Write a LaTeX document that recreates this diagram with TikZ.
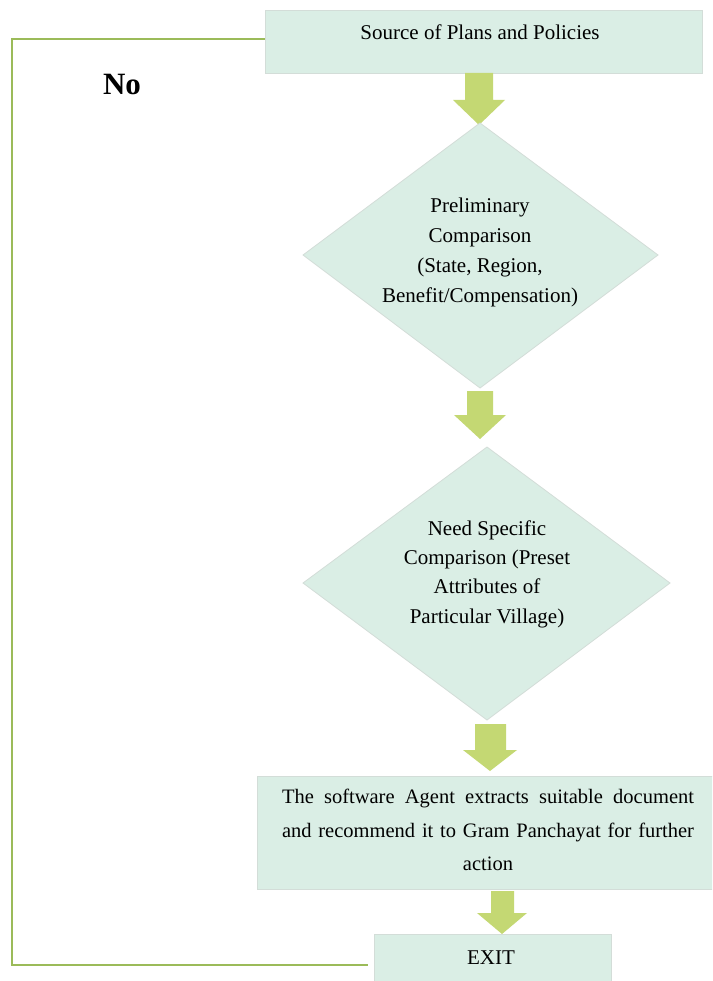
\documentclass[tikz,border=0pt]{standalone}
\usepackage{fontspec}
\setmainfont{Liberation Serif}
\definecolor{boxfill}{HTML}{DAEEE5}
\definecolor{boxedge}{HTML}{D3DDD8}
\definecolor{arrowfill}{HTML}{C4D873}
\definecolor{loopcol}{HTML}{9BBB59}
\tikzset{
  box/.style={rectangle, fill=boxfill, draw=boxedge, line width=0.8pt, inner sep=0pt},
  dia/.style={fill=boxfill, draw=boxedge, line width=0.8pt},
  blockarrow/.style={fill=arrowfill, draw=none},
  txt/.style={font=\fontsize{21}{30}\selectfont, align=center, inner sep=0pt},
  loopline/.style={draw=loopcol, line width=2.2pt},
}
\begin{document}
\begin{tikzpicture}[x=1pt,y=-1pt]
\clip (0,0) rectangle (712,981);
\fill[white] (0,0) rectangle (712,981);

% top box
\node[box, minimum width=437pt, minimum height=63pt] (top) at (483.5,41.5) {};
\node[txt] (toptxt) at (480,32) {Source of Plans and Policies};

% No label
\node[font=\fontsize{31}{34}\selectfont\bfseries, inner sep=0pt] (no) at (122,85) {No};

% arrow 1
\fill[blockarrow] (465,73) -- (493,73) -- (493,100) -- (505,100) -- (479,125) -- (453,100) -- (465,100) -- cycle;

% diamond 1
\filldraw[dia] (480,123) -- (658,255) -- (480,388) -- (303,255) -- cycle;
\node[txt] (d1) at (480,252) {Preliminary\\Comparison\\(State, Region,\\Benefit/Compensation)};

% arrow 2
\fill[blockarrow] (467,391) -- (493,391) -- (493,415) -- (506,415) -- (480,439) -- (454,415) -- (467,415) -- cycle;

% diamond 2
\filldraw[dia] (487,447) -- (670,583) -- (487,720) -- (303,583) -- cycle;
\node[txt, font=\fontsize{21}{29.3}\selectfont] (d2) at (487,574) {Need Specific\\Comparison (Preset\\Attributes of\\Particular Village)};

% arrow 3
\fill[blockarrow] (475,724) -- (506,724) -- (506,750) -- (517,750) -- (490,771) -- (463,750) -- (475,750) -- cycle;

% box 3
\node[box, minimum width=459pt, minimum height=113pt] (agent) at (486.5,832.5) {};
\node[txt, font=\fontsize{20.5}{33.5}\selectfont] (agenttxt) at (488,830) {\makebox[412pt][s]{The software Agent extracts suitable document}\\\makebox[412pt][s]{and recommend it to Gram Panchayat for further}\\action};

% arrow 4
\fill[blockarrow] (491,891) -- (514,891) -- (514,913) -- (527,913) -- (502,934) -- (477,913) -- (491,913) -- cycle;

% exit box
\node[box, minimum width=237pt, minimum height=62pt] (exit) at (492.5,965) {};
\node[txt] (exittxt) at (491,958) {EXIT};

% loop line
\coordinate (c1) at (12,39);
\coordinate (c2) at (12,965);
\draw[loopline] ([yshift=2.5pt]top.west) -- (c1) -- (c2) -- ([xshift=-6pt]exit.west);
\end{tikzpicture}
\end{document}
